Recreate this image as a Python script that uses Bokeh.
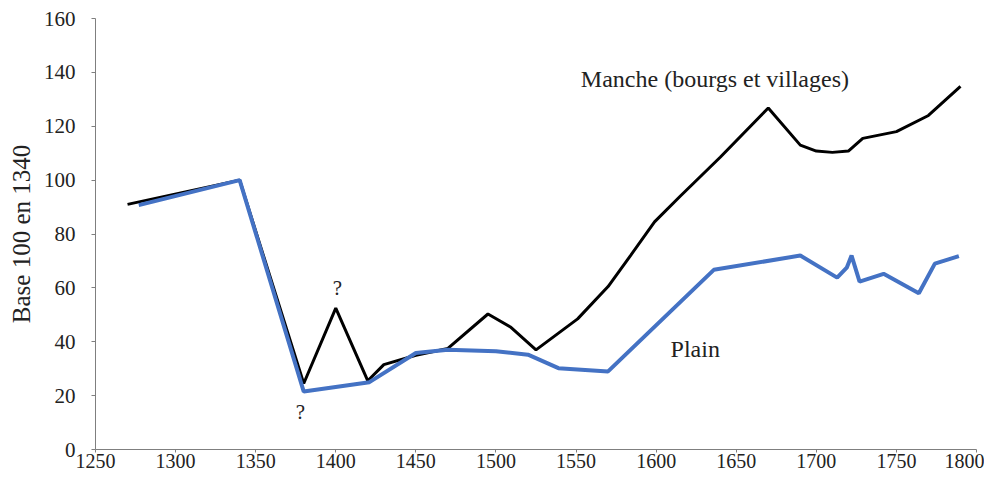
from bokeh.plotting import figure
from bokeh.embed import file_html
from bokeh.resources import INLINE
from bokeh.models import FixedTicker, Range1d, Label

# Data
manche_years = [1270, 1340, 1380, 1400, 1420, 1430, 1450, 1470, 1495, 1509, 1525, 1551, 1570, 1584, 1599, 1615, 1640, 1670, 1690, 1700, 1710, 1720, 1729, 1750, 1770, 1790]
manche_vals = [91, 100, 24.5, 52.5, 25.5, 31.5, 35, 37.5, 50.3, 45.5, 37, 48.5, 60.5, 72, 84.5, 94, 108.5, 126.8, 113, 110.8, 110.3, 110.8, 115.5, 118, 124, 134.8]

plain_years = [1277, 1340, 1380, 1421, 1450, 1470, 1500, 1520, 1539, 1570, 1636, 1690, 1713, 1719, 1722, 1727, 1742, 1764, 1774, 1789]
plain_vals = [90.7, 100, 21.5, 25, 35.8, 37, 36.5, 35.2, 30.2, 29, 66.7, 72, 63.8, 67.5, 72, 62.3, 65.2, 58, 69, 71.8]

x_ticks = [1250, 1300, 1350, 1400, 1450, 1500, 1550, 1600, 1650, 1700, 1750, 1800]
y_ticks = [0, 20, 40, 60, 80, 100, 120, 140, 160]

FONT = "Liberation Serif"

p = figure(width=984, height=476, output_backend="svg", toolbar_location=None,
           x_range=Range1d(1250, 1800), y_range=Range1d(0, 160),
           min_border_left=95, min_border_right=8, min_border_top=18, min_border_bottom=27)
p.outline_line_color = None
p.xgrid.grid_line_color = None
p.ygrid.grid_line_color = None

p.line(manche_years, manche_vals, line_color="black", line_width=3)
p.line(plain_years, plain_vals, line_color="#4472C4", line_width=4)

for ax in (p.xaxis[0], p.yaxis[0]):
    ax.axis_line_color = "#7f7f7f"
    ax.major_tick_line_color = "#7f7f7f"
    ax.minor_tick_line_color = None
    ax.major_tick_in = 0
    ax.major_tick_out = 4
    ax.major_label_text_font = FONT
    ax.major_label_text_font_size = "21px"
    ax.major_label_text_color = "#222222"

p.xaxis.ticker = FixedTicker(ticks=x_ticks)
p.yaxis.ticker = FixedTicker(ticks=y_ticks)
p.xaxis.major_tick_out = 3
p.xaxis.major_label_standoff = 1
p.xaxis.major_label_text_font_size = "20px"
p.yaxis.major_label_standoff = 16
p.yaxis.axis_label = "Base 100 en 1340"
p.yaxis.axis_label_text_font = FONT
p.yaxis.axis_label_text_font_size = "25px"
p.yaxis.axis_label_text_font_style = "normal"
p.yaxis.axis_label_text_color = "#222222"
p.yaxis.axis_label_standoff = 6

labels = [
    ("Manche (bourgs et villages)", 1553, 137.5, "left", "24px"),
    ("Plain", 1609, 37.2, "left", "24px"),
    ("?", 1401, 60, "center", "21px"),
    ("?", 1378, 13.8, "center", "21px"),
]
for txt, lx, ly, al, fs in labels:
    p.add_layout(Label(x=lx, y=ly, text=txt, text_font=FONT, text_font_size=fs,
                       text_color="#222222", text_align=al, text_baseline="middle"))

open("out.html", "w").write(file_html(p, INLINE))
